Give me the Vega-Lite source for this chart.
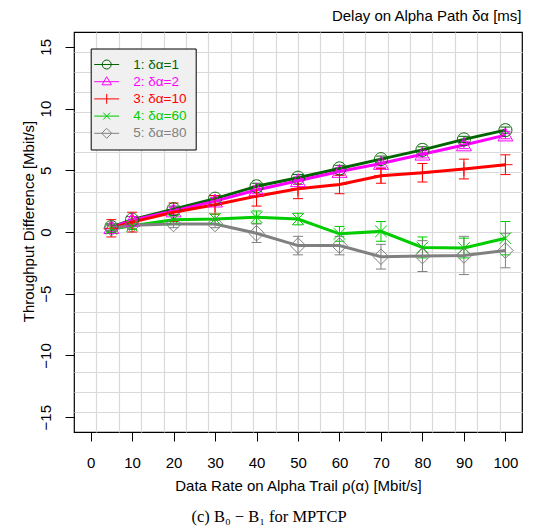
{
  "$schema": "https://vega.github.io/schema/vega-lite/v6.json",
  "autosize": {"type": "none"},
  "width": 448,
  "height": 400,
  "padding": {"left": 74, "top": 32, "right": 17, "bottom": 99},
  "background": "white",
  "config": {
    "view": {"stroke": "black", "strokeWidth": 1.2},
    "font": "Liberation Sans",
    "axis": {"labelFont": "Liberation Sans", "titleFont": "Liberation Sans", "labelColor": "black", "titleColor": "black", "titleFontWeight": "normal"}
  },
  "title": {"text": "(c)  B₀ − B₁  for MPTCP", "orient": "bottom", "anchor": "middle", "frame": "group", "dx": -29, "offset": 16, "font": "Liberation Serif", "fontSize": 16.5, "fontWeight": "normal", "color": "black"},
  "data": {"values": [
    {"s": "1: δα=1", "x": 5, "y": 0.4, "lo": 0.15, "hi": 0.65},
    {"s": "1: δα=1", "x": 10, "y": 1.0, "lo": 0.75, "hi": 1.25},
    {"s": "1: δα=1", "x": 20, "y": 1.85, "lo": 1.6, "hi": 2.1},
    {"s": "1: δα=1", "x": 30, "y": 2.7, "lo": 2.45, "hi": 2.95},
    {"s": "1: δα=1", "x": 40, "y": 3.7, "lo": 3.45, "hi": 3.95},
    {"s": "1: δα=1", "x": 50, "y": 4.4, "lo": 4.15, "hi": 4.65},
    {"s": "1: δα=1", "x": 60, "y": 5.15, "lo": 4.9, "hi": 5.4},
    {"s": "1: δα=1", "x": 70, "y": 5.9, "lo": 5.65, "hi": 6.15},
    {"s": "1: δα=1", "x": 80, "y": 6.65, "lo": 6.4, "hi": 6.9},
    {"s": "1: δα=1", "x": 90, "y": 7.5, "lo": 7.25, "hi": 7.75},
    {"s": "1: δα=1", "x": 100, "y": 8.25, "lo": 8.0, "hi": 8.5},
    {"s": "2: δα=2", "x": 5, "y": 0.35, "lo": 0.05, "hi": 0.65},
    {"s": "2: δα=2", "x": 10, "y": 0.95, "lo": 0.65, "hi": 1.25},
    {"s": "2: δα=2", "x": 20, "y": 1.7, "lo": 1.4, "hi": 2.0},
    {"s": "2: δα=2", "x": 30, "y": 2.5, "lo": 2.2, "hi": 2.8},
    {"s": "2: δα=2", "x": 40, "y": 3.4, "lo": 3.1, "hi": 3.7},
    {"s": "2: δα=2", "x": 50, "y": 4.15, "lo": 3.85, "hi": 4.45},
    {"s": "2: δα=2", "x": 60, "y": 4.9, "lo": 4.6, "hi": 5.2},
    {"s": "2: δα=2", "x": 70, "y": 5.55, "lo": 5.25, "hi": 5.85},
    {"s": "2: δα=2", "x": 80, "y": 6.3, "lo": 6.0, "hi": 6.6},
    {"s": "2: δα=2", "x": 90, "y": 7.05, "lo": 6.75, "hi": 7.35},
    {"s": "2: δα=2", "x": 100, "y": 7.85, "lo": 7.55, "hi": 8.15},
    {"s": "3: δα=10", "x": 5, "y": 0.3, "lo": -0.4, "hi": 1.0},
    {"s": "3: δα=10", "x": 10, "y": 0.8, "lo": 0.0, "hi": 1.6},
    {"s": "3: δα=10", "x": 20, "y": 1.6, "lo": 0.85, "hi": 2.35},
    {"s": "3: δα=10", "x": 30, "y": 2.2, "lo": 1.45, "hi": 2.95},
    {"s": "3: δα=10", "x": 40, "y": 2.9, "lo": 2.1, "hi": 3.7},
    {"s": "3: δα=10", "x": 50, "y": 3.5, "lo": 2.7, "hi": 4.3},
    {"s": "3: δα=10", "x": 60, "y": 3.85, "lo": 3.1, "hi": 4.6},
    {"s": "3: δα=10", "x": 70, "y": 4.55, "lo": 3.95, "hi": 5.15},
    {"s": "3: δα=10", "x": 80, "y": 4.8, "lo": 4.05, "hi": 5.55},
    {"s": "3: δα=10", "x": 90, "y": 5.1, "lo": 4.3, "hi": 5.9},
    {"s": "3: δα=10", "x": 100, "y": 5.45, "lo": 4.65, "hi": 6.25},
    {"s": "4: δα=60", "x": 5, "y": 0.25, "lo": -0.05, "hi": 0.55},
    {"s": "4: δα=60", "x": 10, "y": 0.5, "lo": 0.2, "hi": 0.8},
    {"s": "4: δα=60", "x": 20, "y": 1.0, "lo": 0.65, "hi": 1.35},
    {"s": "4: δα=60", "x": 30, "y": 1.05, "lo": 0.65, "hi": 1.45},
    {"s": "4: δα=60", "x": 40, "y": 1.2, "lo": 0.7, "hi": 1.7},
    {"s": "4: δα=60", "x": 50, "y": 1.05, "lo": 0.58, "hi": 1.52},
    {"s": "4: δα=60", "x": 60, "y": -0.15, "lo": -0.75, "hi": 0.45},
    {"s": "4: δα=60", "x": 70, "y": 0.05, "lo": -0.75, "hi": 0.85},
    {"s": "4: δα=60", "x": 80, "y": -1.25, "lo": -2.1, "hi": -0.4},
    {"s": "4: δα=60", "x": 90, "y": -1.3, "lo": -2.1, "hi": -0.5},
    {"s": "4: δα=60", "x": 100, "y": -0.5, "lo": -1.85, "hi": 0.85},
    {"s": "5: δα=80", "x": 5, "y": 0.3, "lo": 0.1, "hi": 0.5},
    {"s": "5: δα=80", "x": 10, "y": 0.55, "lo": 0.3, "hi": 0.8},
    {"s": "5: δα=80", "x": 20, "y": 0.65, "lo": 0.35, "hi": 0.95},
    {"s": "5: δα=80", "x": 30, "y": 0.65, "lo": 0.35, "hi": 0.95},
    {"s": "5: δα=80", "x": 40, "y": -0.1, "lo": -0.85, "hi": 0.65},
    {"s": "5: δα=80", "x": 50, "y": -1.1, "lo": -1.85, "hi": -0.35},
    {"s": "5: δα=80", "x": 60, "y": -1.1, "lo": -1.85, "hi": -0.35},
    {"s": "5: δα=80", "x": 70, "y": -2.0, "lo": -3.0, "hi": -1.0},
    {"s": "5: δα=80", "x": 80, "y": -1.95, "lo": -3.2, "hi": -0.7},
    {"s": "5: δα=80", "x": 90, "y": -1.9, "lo": -3.45, "hi": -0.35},
    {"s": "5: δα=80", "x": 100, "y": -1.5, "lo": -2.9, "hi": -0.1}
  ]},
  "resolve": {"axis": {"x": "independent", "y": "independent"}},
  "layer": [
    {
      "mark": {"type": "rule", "strokeWidth": 1},
      "encoding": {
        "x": {"field": "x", "type": "quantitative", "scale": {"domain": [-4, 104], "nice": false, "zero": false},
          "axis": {"orient": "top", "grid": true, "values": [1.4, 6.8, 12.2, 17.6, 23, 28.4, 33.8, 39.2, 44.6, 50, 55.4, 60.8, 66.2, 71.6, 77, 82.4, 87.8, 93.2, 98.6],
            "gridColor": "#d9d9d9", "gridWidth": 1.2, "gridOpacity": 1, "labels": false, "ticks": false, "domain": false,
            "title": "Delay on Alpha Path δα [ms]", "titleFontSize": 15, "titleX": 447, "titleY": -11.6, "titleAlign": "right", "titleBaseline": "alphabetic"}},
        "y": {"field": "lo", "type": "quantitative", "scale": {"domain": [-16.2, 16.2], "nice": false, "zero": false},
          "axis": {"orient": "right", "grid": true, "values": [-14.58, -12.96, -11.34, -9.72, -8.1, -6.48, -4.86, -3.24, -1.62, 0, 1.62, 3.24, 4.86, 6.48, 8.1, 9.72, 11.34, 12.96, 14.58],
            "gridColor": "#d9d9d9", "gridWidth": 1.2, "gridOpacity": 1, "labels": false, "ticks": false, "domain": false, "title": null}},
        "y2": {"field": "hi"},
        "color": {"field": "s", "type": "nominal"}
      }
    },
    {
      "mark": {"type": "point", "shape": "stroke", "filled": false, "size": 100, "strokeWidth": 1, "opacity": 1},
      "encoding": {
        "x": {"field": "x", "type": "quantitative", "axis": null},
        "y": {"field": "lo", "type": "quantitative", "axis": null},
        "color": {"field": "s", "type": "nominal"}
      }
    },
    {
      "mark": {"type": "point", "shape": "stroke", "filled": false, "size": 100, "strokeWidth": 1, "opacity": 1},
      "encoding": {
        "x": {"field": "x", "type": "quantitative", "axis": null},
        "y": {"field": "hi", "type": "quantitative", "axis": null},
        "color": {"field": "s", "type": "nominal"}
      }
    },
    {
      "mark": {"type": "line", "strokeWidth": 3},
      "encoding": {
        "x": {"field": "x", "type": "quantitative",
          "axis": {"orient": "bottom", "values": [0, 10, 20, 30, 40, 50, 60, 70, 80, 90, 100], "grid": false, "domain": false,
            "tickColor": "black", "tickSize": 9, "tickWidth": 1, "labelFontSize": 15, "labelPadding": 14, "labelBaseline": "top",
            "title": "Data Rate on Alpha Trail ρ(α) [Mbit/s]", "titleFontSize": 15, "titleY": 58.4, "titleBaseline": "alphabetic"}},
        "y": {"field": "y", "type": "quantitative",
          "axis": {"orient": "left", "values": [-15, -10, -5, 0, 5, 10, 15], "grid": false, "domain": false,
            "tickColor": "black", "tickSize": 9, "tickWidth": 1, "labelFontSize": 15, "labelPadding": 15, "labelAngle": 270, "labelAlign": "center", "labelBaseline": "alphabetic",
            "title": "Throughput Difference [Mbit/s]", "titleFontSize": 15, "titleX": -41, "titleY": 189, "titleAngle": 270, "titleAlign": "center", "titleBaseline": "alphabetic"}},
        "color": {"field": "s", "type": "nominal",
          "scale": {"domain": ["1: δα=1", "2: δα=2", "3: δα=10", "4: δα=60", "5: δα=80"], "range": ["#006400", "#ff00ff", "#ff0000", "#00cc00", "#808080"]},
          "legend": {"orient": "none", "legendX": 16.7, "legendY": 16.5, "title": null, "fillColor": "#f0f0f0", "strokeColor": "black", "padding": 9,
            "labelFont": "Liberation Sans", "labelFontSize": 13.5, "labelOffset": 19.5, "rowPadding": 3.2, "symbolSize": 156.25,
            "labelColor": {"expr": "scale('color', datum.value)"},
            "symbolType": {"expr": "['M-2,0L2,0M-0.72,0A0.72,0.72 0 1,1 0.72,0A0.72,0.72 0 1,1 -0.72,0', 'M-2,0L2,0M0,-0.8L0.75,0.5L-0.75,0.5Z', 'M-2,0L2,0M0,-0.8L0,0.8', 'M-2,0L2,0M-0.55,-0.55L0.55,0.55M-0.55,0.55L0.55,-0.55', 'M-2,0L2,0M0,-0.8L0.8,0L0,0.8L-0.8,0Z'][datum.index]"},
            "symbolFillColor": "transparent", "symbolStrokeWidth": 1, "symbolOpacity": 1}
        }
      }
    },
    {
      "mark": {"type": "point", "filled": false, "strokeWidth": 1, "size": 169, "opacity": 1},
      "encoding": {
        "x": {"field": "x", "type": "quantitative", "axis": null},
        "y": {"field": "y", "type": "quantitative", "axis": null},
        "color": {"field": "s", "type": "nominal"},
        "shape": {"field": "s", "type": "nominal", "legend": null,
          "scale": {"domain": ["5: δα=80", "4: δα=60", "3: δα=10", "2: δα=2", "1: δα=1"],
            "range": ["M0,-1.2L1.2,0L0,1.2L-1.2,0Z", "M-0.9,-0.9L0.9,0.9M-0.9,0.9L0.9,-0.9", "M-1.1,0L1.1,0M0,-1.1L0,1.1", "M0,-1.1L1.15,0.9L-1.15,0.9Z", "M-1,0A1,1 0 1,1 1,0A1,1 0 1,1 -1,0Z"]}}
      }
    }
  ]
}
